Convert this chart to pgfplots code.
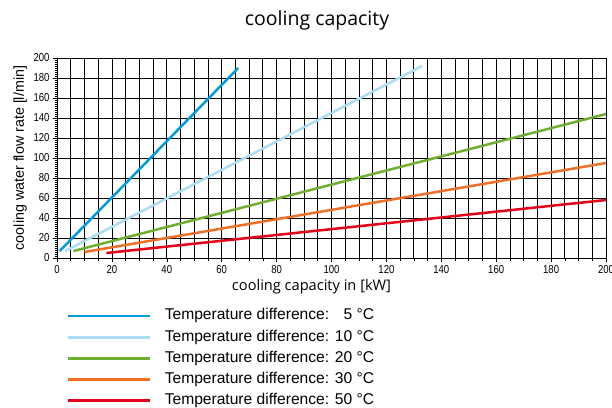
\documentclass[border=0pt]{standalone}
\usepackage{fontspec}
\setmainfont{Liberation Sans}
\newfontfamily\narrowfont[FakeStretch=0.83]{Liberation Sans}
\newfontfamily\titlefont{Open Sans}
\usepackage{pgfplots}
\pgfplotsset{compat=1.18}

\definecolor{dt5}{RGB}{0,155,222}
\definecolor{dt10}{RGB}{170,220,245}
\definecolor{dt20}{RGB}{110,175,50}
\definecolor{dt30}{RGB}{238,112,40}
\definecolor{dt50}{RGB}{226,0,26}

\begin{document}
\begin{tikzpicture}
\begin{axis}[
  at={(57pt,-258pt)}, anchor=south west,
  scale only axis, width=549pt, height=200pt,
  xmin=0, xmax=200, ymin=0, ymax=200,
  xtick={0,20,...,200}, ytick={0,20,...,200},
  minor x tick num=3, minor y tick num=9,
  xmajorgrids, xminorgrids, ymajorgrids,
  major grid style={black, line width=0.8pt},
  minor grid style={black, line width=0.8pt},
  tick align=outside, tick pos=left,
  major tick length=4pt, minor tick length=2.5pt,
  tick style={black, line width=0.6pt},
  axis line style={black, line width=1pt},
  /pgf/number format/assume math mode=true,
  ticklabel style={font=\narrowfont\fontsize{11.5}{12}\selectfont},
  xlabel={cooling capacity in [kW]},
  xlabel style={at={(axis description cs:0.4636,-0.145)}, anchor=center,
    font=\titlefont\fontsize{14.6}{16}\selectfont},
  ylabel={cooling water flow rate [l/min]},
  ylabel style={at={(axis description cs:-0.067,0.5)}, anchor=center, rotate=0,
    font=\fontsize{14.3}{16}\selectfont},
  title={cooling capacity},
  title style={at={(axis description cs:0.4736,1.1315)}, anchor=base,
    font=\titlefont\fontsize{19.5}{22}\selectfont},
  legend style={draw=none, fill=none, at={(axis description cs:0.0127,-0.2435)},
    anchor=north west, font=\fontsize{15.6}{18}\selectfont,
    nodes={inner sep=0pt, text height=11pt, text depth=3.5pt},
    row sep=6.6pt, column sep=13pt},
  legend cell align=left,
  legend image code/.code={\draw[#1, line width=2.6pt] (0pt,0pt) -- (82pt,0pt);},
]
\addplot[dt5, line width=2.5pt] coordinates {(1,7) (66,190)};
\addplot[dt10, line width=2.5pt] coordinates {(3,7) (133,192)};
\addplot[dt20, line width=2.5pt] coordinates {(6,7) (200,144)};
\addplot[dt30, line width=2.5pt] coordinates {(10,6) (200,95)};
\addplot[dt50, line width=2.5pt] coordinates {(18,5) (200,58)};
\legend{Temperature difference: \phantom{1}5 °C,
  Temperature difference: 10 °C,
  Temperature difference: 20 °C,
  Temperature difference: 30 °C,
  Temperature difference: 50 °C}
\end{axis}
\pgfresetboundingbox
\path[use as bounding box] (0pt,0pt) rectangle (612pt,-407pt);
\end{tikzpicture}
\end{document}
